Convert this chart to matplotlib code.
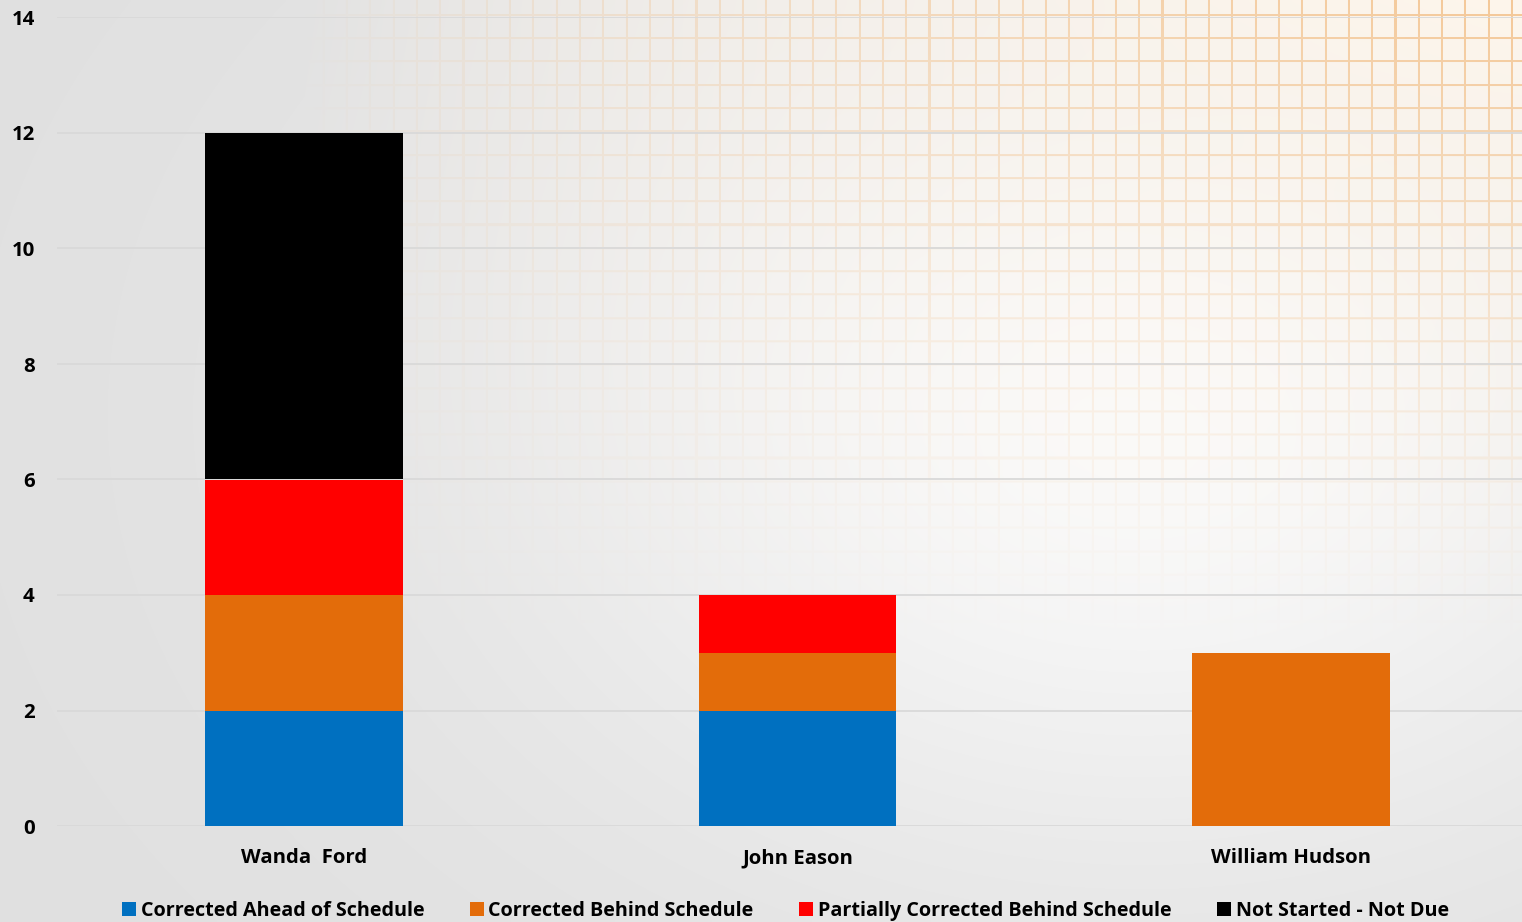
import numpy as np
import matplotlib
matplotlib.use("Agg")
import matplotlib.pyplot as plt
from matplotlib.patches import Patch

categories = ["Wanda  Ford", "John Eason", "William Hudson"]
series_names = ["Corrected Ahead of Schedule", "Corrected Behind Schedule",
                "Partially Corrected Behind Schedule", "Not Started - Not Due"]
ahead = [2, 2, 0]
behind = [2, 1, 3]
partial = [2, 1, 0]
not_started = [6, 0, 0]
colors = ["#0070C0", "#E36C0A", "#FF0000", "#000000"]
yticks = [0, 2, 4, 6, 8, 10, 12, 14]

W, H = 1522, 922
fig = plt.figure(figsize=(W / 100, H / 100), dpi=100)

# background texture (decorative)
yy, xx = np.mgrid[0:H, 0:W].astype(float)
xn = xx / W
yn = yy / H
base = 224 + 26 * np.exp(-((xn - 0.75) ** 2) / 0.18 - ((yn - 0.45) ** 2) / 0.25)
base = np.clip(base, 0, 252)
img = np.stack([base, base, base], axis=-1)
w = np.clip((xn - 0.2) / 0.8, 0, 1) ** 0.8 * np.clip(1 - yn / 0.7, 0, 1) ** 1.3
warm = np.array([254, 246, 236.0])
img = img * (1 - w[..., None]) + warm * w[..., None]
gx = (np.abs(((xx + 3) % 23.3) - 11.6) > 10.6).astype(float)
gy = (np.abs(((yy + 8) % 23.3) - 11.6) > 10.6).astype(float)
grid = np.clip(gx + gy, 0, 1) * w * 0.7
line = np.array([240, 180, 115.0])
img = img * (1 - grid[..., None]) + line * grid[..., None]
bg = fig.add_axes([0, 0, 1, 1], zorder=-10)
bg.imshow(img.astype(np.uint8), aspect="auto", extent=[0, 1, 0, 1])
bg.axis("off")

left = 57 / W
bottom = (H - 826) / H
top = (H - 17.5) / H
ax = fig.add_axes([left, bottom, 1 - left, top - bottom])
ax.patch.set_alpha(0)

x = np.arange(len(categories))
bw = 0.401
bottoms = np.zeros(len(categories))
for vals, c, name in zip([ahead, behind, partial, not_started], colors, series_names):
    ax.bar(x, vals, bw, bottom=bottoms, color=c, label=name, zorder=3)
    bottoms += np.array(vals)

ax.set_ylim(0, 14)
ax.set_xlim(-0.5005, 2.468)
ax.set_yticks(yticks)
ax.set_xticks(x)
ax.set_xticklabels(categories)
font = "Open Sans"
for lab in ax.get_yticklabels() + ax.get_xticklabels():
    lab.set_fontfamily(font); lab.set_fontweight("bold"); lab.set_fontsize(14.7)
ax.tick_params(axis="both", length=0)
ax.tick_params(axis="y", pad=16)
ax.tick_params(axis="x", pad=16)
ax.yaxis.grid(True, color="#d9d9d9", linewidth=1.3, zorder=0)
ax.set_axisbelow(True)
for s in ax.spines.values():
    s.set_visible(False)

handles = [Patch(facecolor=c, edgecolor="none") for c in colors]
leg = fig.legend(handles, series_names, loc="center", bbox_to_anchor=(0.516, (H - 911) / H),
                 ncol=4, frameon=False, handlelength=0.7, handleheight=0.7,
                 handletextpad=0.25, columnspacing=2.3,
                 prop={"family": font, "weight": "bold", "size": 14.2})

fig.savefig("out.png", dpi=100)
